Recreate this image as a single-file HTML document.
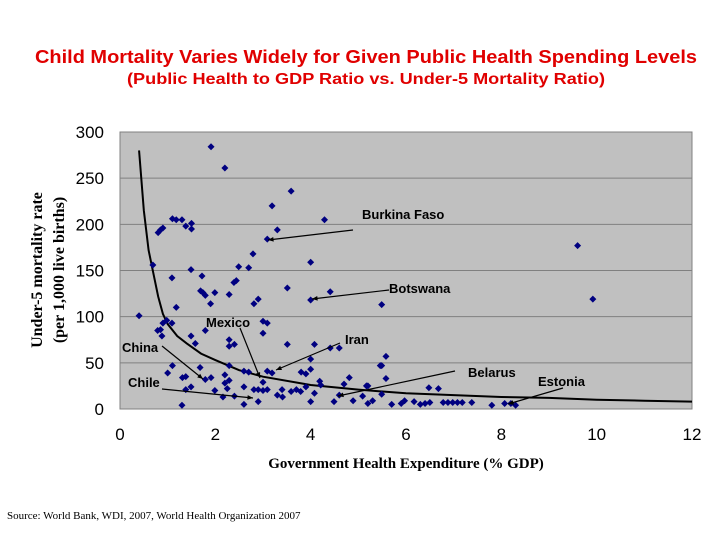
<!DOCTYPE html>
<html><head><meta charset="utf-8"><style>
body{margin:0;background:#fff;}
svg{display:block;}
</style></head><body>
<svg id="chart" width="720" height="540" viewBox="0 0 720 540" xmlns="http://www.w3.org/2000/svg">
<defs><clipPath id="ytclip"><rect x="0" y="186" width="110" height="300"/></clipPath></defs>
<text x="366" y="63" text-anchor="middle" font-family="Liberation Sans, sans-serif" font-weight="bold" font-size="18" fill="#e00000" textLength="662" lengthAdjust="spacingAndGlyphs">Child Mortality Varies Widely for Given Public Health Spending Levels</text>
<text x="366" y="84" text-anchor="middle" font-family="Liberation Sans, sans-serif" font-weight="bold" font-size="16" fill="#e00000" textLength="478" lengthAdjust="spacingAndGlyphs">(Public Health to GDP Ratio vs. Under-5 Mortality Ratio)</text>
<rect x="120" y="132" width="572" height="277" fill="#c0c0c0" stroke="#808080" stroke-width="1"/>
<g id="grid"></g>
<g id="ticks"></g>
<g id="curve"></g>
<g id="points"></g>
<g id="notes" font-family="Liberation Sans, sans-serif" font-weight="bold" font-size="13" fill="#000"></g>
<g clip-path="url(#ytclip)">
<text transform="translate(42,270) rotate(-90)" text-anchor="middle" font-family="Liberation Serif, serif" font-weight="bold" font-size="16">Under-5 mortality rate</text>
</g>
<text transform="translate(64,270) rotate(-90)" text-anchor="middle" font-family="Liberation Serif, serif" font-weight="bold" font-size="16">(per 1,000 live births)</text>
<text x="406" y="468" text-anchor="middle" font-family="Liberation Serif, serif" font-weight="bold" font-size="15">Government Health Expenditure (% GDP)</text>
<text x="7" y="519" font-family="Liberation Serif, serif" font-size="11">Source: World Bank, WDI, 2007, World Health Organization 2007</text>
</svg>
<script>
const xTicks=[0,2,4,6,8,10,12];
const yTicks=[0,50,100,150,200,250,300];
const xs=[0.4,0.69,0.8,0.85,0.9,1.1,1.18,1.3,1.38,1.5,1.5,1.91,2.2,3.59,3.19,3.3,3.09,4.29,4.0,4.0,4.41,3.51,2.79,2.7,2.49,2.39,2.44,2.29,2.81,2.9,1.72,1.69,1.74,1.79,1.9,1.99,1.09,1.18,1.49,0.79,0.85,0.9,0.88,0.98,1.09,1.49,1.58,1.79,2.29,2.4,2.29,3.0,3.09,3.0,3.51,4.08,4.41,4.6,4.0,1.68,1.0,1.1,2.29,2.6,2.7,3.09,3.19,3.8,3.9,4.0,1.79,1.91,2.2,2.29,1.31,1.38,1.49,1.38,1.3,1.99,2.2,2.25,2.16,2.4,2.6,2.6,2.81,2.9,2.9,3.0,3.09,3.0,3.3,3.41,3.4,3.59,3.7,3.79,3.9,4.19,4.21,4.0,4.08,4.49,4.6,4.7,4.81,4.89,5.09,5.17,5.2,5.2,5.3,5.46,9.6,9.92,5.49,5.58,5.49,5.58,5.49,5.7,5.9,5.97,6.17,6.3,6.4,6.5,6.48,6.68,6.78,6.88,6.98,7.08,7.18,7.38,7.8,8.07,8.2,8.3];
const ys=[101,156,191,194,196,206,205,205,198,201,195,284,261,236,220,194,184,205,159,118,127,131,168,153,154,137,139,124,114,119,144,128,126,123,114,126,142,110,151,85,86,93,79,96,93,79,71,85,75,70,68,95,93,82,70,70,66,66,54,45,39,47,47,41,40,41,39,40,38,43,32,34,37,31,34,35,24,21,4,20,28,22,13,14,24,5,21,21,8,29,21,20,15,13,21,19,21,19,24,30,26,8,17,8,15,27,34,9,14,25,25,6,9,47,177,119,113,57,47,33,16,5,6,9,8,5,6,7,23,22,7,7,7,7,7,7,4,6,6,4];
const curveX=[0.4,0.5,0.6,0.7,0.8,0.9,1.0,1.2,1.4,1.7,2,2.5,3,4,5,6,7,8,9,10,11,12];
const curveY=[280,215,172,147,122,103,92,79,71,60,53,42,35,26,21,17,15,13,12,10,9,8];
const noteText=["Burkina Faso","Botswana","Mexico","Iran","China","Chile","Belarus","Estonia"];
const notePos=[[362,219],[389,293],[206,327],[345,344],[122,352],[128,387],[468,377],[538,386]];
const noteLines=[[353,230,268,240],[389,290,312,299],[240,328,260,378],[340,343,276,370],[162,346,203,379],[162,389,253,398],[455,371,338,396],[563,388,508,404]];
const X0=120,X1=692,Y0=409,Y1=132;
const sx=v=>X0+(v-0)/12*(X1-X0);
const sy=v=>Y0-(v-0)/300*(Y0-Y1);
const NS="http://www.w3.org/2000/svg";
function mk(tag,attrs,parent){const e=document.createElementNS(NS,tag);for(const k in attrs)e.setAttribute(k,attrs[k]);parent.appendChild(e);return e;}
const grid=document.getElementById('grid'),ticks=document.getElementById('ticks');
yTicks.forEach(t=>{
  if(t>0&&t<300){const l=mk('line',{x1:X0,x2:X1,y1:sy(t),y2:sy(t),stroke:'#808080','stroke-width':1},grid);
  
  }
  const tx=mk('text',{x:104,y:sy(t)+6,'text-anchor':'end','font-family':'Liberation Sans, sans-serif','font-size':17},ticks);
  tx.textContent=t;
  
  
});
xTicks.forEach(t=>{
  const tx=mk('text',{x:sx(t),y:440,'text-anchor':'middle','font-family':'Liberation Sans, sans-serif','font-size':17},ticks);
  tx.textContent=t;
  
  
});
const cg=document.getElementById('curve');
const path=mk('polyline',{points:curveX.map((x,i)=>sx(x)+','+sy(curveY[i])).join(' '),fill:'none',stroke:'#000','stroke-width':2},cg);


const pg=document.getElementById('points');
xs.forEach((x,i)=>{
  const cx=sx(x),cy=sy(ys[i]);
  const p=mk('polygon',{points:`${cx},${cy-3.5} ${cx+3.5},${cy} ${cx},${cy+3.5} ${cx-3.5},${cy}`,fill:'#000080'},pg);
  
  
});
const ng=document.getElementById('notes');
noteLines.forEach((l,i)=>{
  const ln=mk('line',{x1:l[0],y1:l[1],x2:l[2],y2:l[3],stroke:'#000','stroke-width':1.2},ng);
  
  
  const a=Math.atan2(l[3]-l[1],l[2]-l[0]);
  const h=6;
  const hp=mk('polygon',{points:`${l[2]},${l[3]} ${l[2]-h*Math.cos(a-0.4)},${l[3]-h*Math.sin(a-0.4)} ${l[2]-h*Math.cos(a+0.4)},${l[3]-h*Math.sin(a+0.4)}`,fill:'#000'},ng);
  
  
  const t=mk('text',{x:notePos[i][0],y:notePos[i][1]},ng);
  t.textContent=noteText[i];
  
  
});
</script>
</body></html>
